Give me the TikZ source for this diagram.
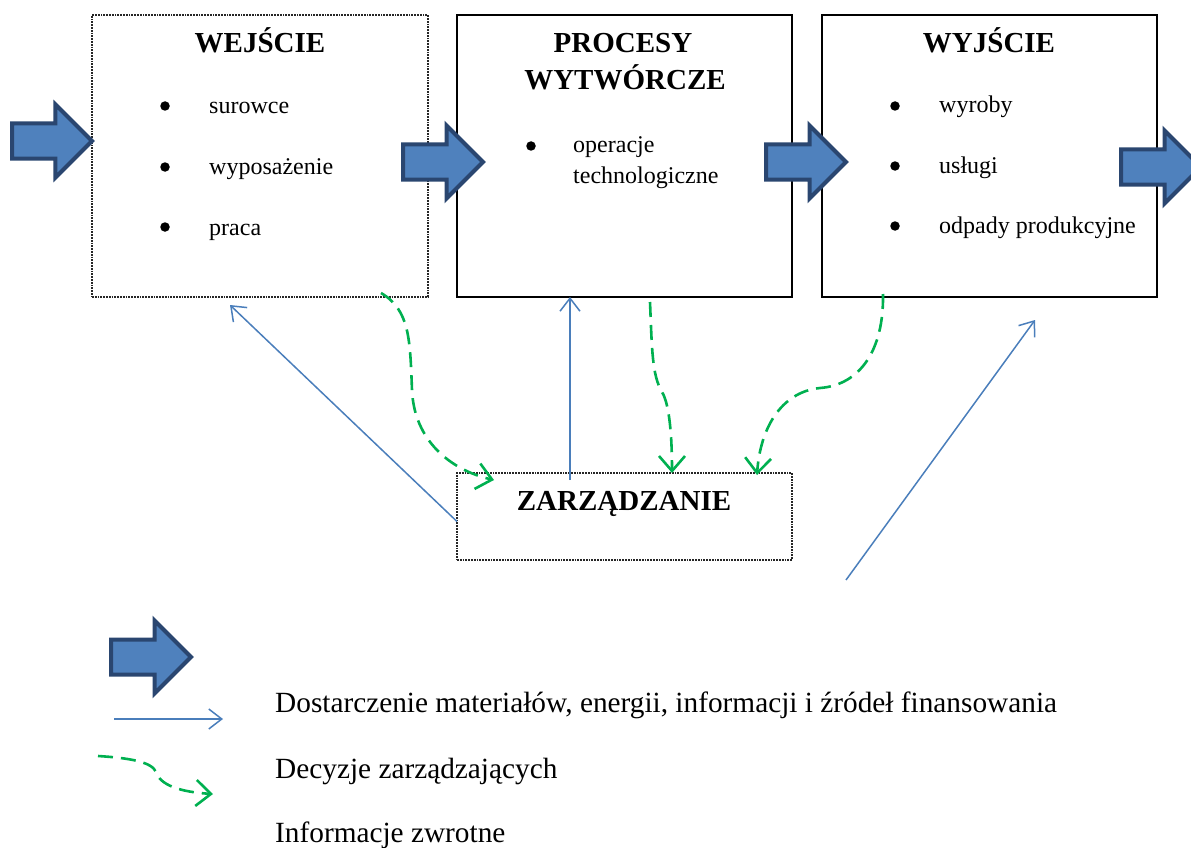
\documentclass[tikz,border=0pt]{standalone}
\usepackage{fontspec}
\setmainfont{Liberation Serif}
\usepackage{tikz}
\usetikzlibrary{positioning,shapes.arrows,arrows.meta,calc}
\definecolor{ink}      {HTML}{000000}
\definecolor{flowblue} {HTML}{4F81BD}
\definecolor{flowedge} {HTML}{2A4670}
\definecolor{supply}   {HTML}{4A7EBB}
\definecolor{decide}   {HTML}{00B050}
\tikzset{
  every node/.style={font=\fontsize{24}{30}\selectfont},
  % --- nodes
  box/.style   = {draw=ink, line width=1.8pt, minimum width=335pt, minimum height=282pt,
                  inner sep=0pt, outer sep=0pt},
  dotbox/.style= {box, draw=ink!85, densely dotted, line width=2pt},
  ttl/.style   = {font=\fontsize{29}{37}\selectfont\bfseries, anchor=base, inner sep=0pt},
  bul/.style   = {circle, fill=ink, minimum size=9.5pt, inner sep=0pt},
  item/.style  = {anchor=base west, inner sep=0pt},
  flow/.style  = {single arrow, draw=flowedge, fill=flowblue, line width=4pt,
                  minimum height=80pt, single arrow head extend=19pt,
                  inner xsep=0pt, inner ysep=15.5pt, text height=0pt, text depth=0pt,
                  outer sep=0pt, anchor=tip},
  lgd/.style   = {font=\fontsize{29.3}{35}\selectfont, anchor=base west, inner sep=0pt},
  % --- edges
  feed/.style  = {-{Straight Barb[length=13pt,width=20pt]}, draw=supply, line width=1.5pt},
  decis/.style = {-{Straight Barb[length=15pt,width=26pt]}, draw=decide, line width=2.6pt,
                  dash pattern=on 15pt off 8pt},
}
\begin{document}
\begin{tikzpicture}[x=1pt,y=-1pt]
  \useasboundingbox (0,0) rectangle (1191,848);
  % boxes
  \node[dotbox, minimum width=336pt] (wej) at (260,156) {};
  \node[box] (proc) at (624.5,156) {};
  \node[box] (wyj) at (989.5,156) {};
  \node[dotbox, minimum height=87pt] (zarz) at (624.5,516.5) {};
  % titles
  \node[ttl] (tw)  at (260,53) {WEJŚCIE};
  \node[ttl] (tp1) at (623,53) {PROCESY};
  \node[ttl] (tp2) at (625,90) {WYTWÓRCZE};
  \node[ttl] (ty)  at (989,53) {WYJŚCIE};
  \node[ttl] (tz)  at (624,510) {ZARZĄDZANIE};
  % items
  \foreach \y/\t [count=\i] in {114/surowce,175/wyposażenie,235/praca}
  {
    \node[bul] (wb\i) at (165,\y-8) {};
    \node[item] (wi\i) at (209,\y) {\t};
  }
  \node[bul] (pb) at (531,146) {};
  \node[item] (pi1) at (573,153) {operacje};
  \node[item] (pi2) at (573,183) {technologiczne};
  \foreach \y/\t [count=\i] in {113/wyroby,173/usługi,233/odpady produkcyjne}
  {
    \node[bul] (yb\i) at (895,\y-7) {};
    \node[item] (yi\i) at (939,\y) {\t};
  }
  % block arrows
  \node[flow] (f1) at (92,141) {};
  \node[flow] (f2) at (483,162) {};
  \node[flow] (f3) at (846,162) {};
  \node[flow] (f4) at (1201,167) {};
  % supply lines
  \coordinate (a1) at (230,305);
  \draw[feed] ($(zarz.west)+(0,5)$) -- (a1);
  \coordinate (a2) at (570,480);
  \draw[feed] (a2) -- (a2 |- proc.south);
  \coordinate (a3) at (846,580);
  \coordinate (a4) at (1035,320);
  \draw[feed] (a3) -- (a4);
  % decisions
  \coordinate (g1) at (381,293);
  \coordinate (g1e) at (494,480);
  \draw[decis] (g1) .. controls (410,310) and (410,340) .. (412,390)
               .. controls (414,440) and (450,470) .. (g1e);
  \coordinate (g2) at (650,302);
  \coordinate (g2e) at (672,473);
  \draw[decis] (g2) .. controls (652,350) and (652,375) .. (662,392)
               .. controls (670,405) and (672,440) .. (g2e);
  \coordinate (g3) at (883,294);
  \coordinate (g3e) at (757,475);
  \draw[decis] (g3) .. controls (884,350) and (860,385) .. (820,388)
               .. controls (780,392) and (760,430) .. (g3e);
  % legend
  \node[flow] (lf) at (191,657) {};
  \coordinate (l1) at (114,719);
  \coordinate (l1e) at (223,719);
  \draw[feed] (l1) -- (l1e);
  \coordinate (l2) at (98,756);
  \coordinate (l2e) at (213,794);
  \draw[decis] (l2) .. controls (130,758) and (152,762) .. (156,772)
               .. controls (160,785) and (180,792) .. (l2e);
  \node[lgd] (lt1) at (275,712) {Dostarczenie materiałów, energii, informacji i źródeł finansowania};
  \node[lgd] (lt2) at (275,778) {Decyzje zarządzających};
  \node[lgd] (lt3) at (275,842) {Informacje zwrotne};
\end{tikzpicture}
\end{document}
